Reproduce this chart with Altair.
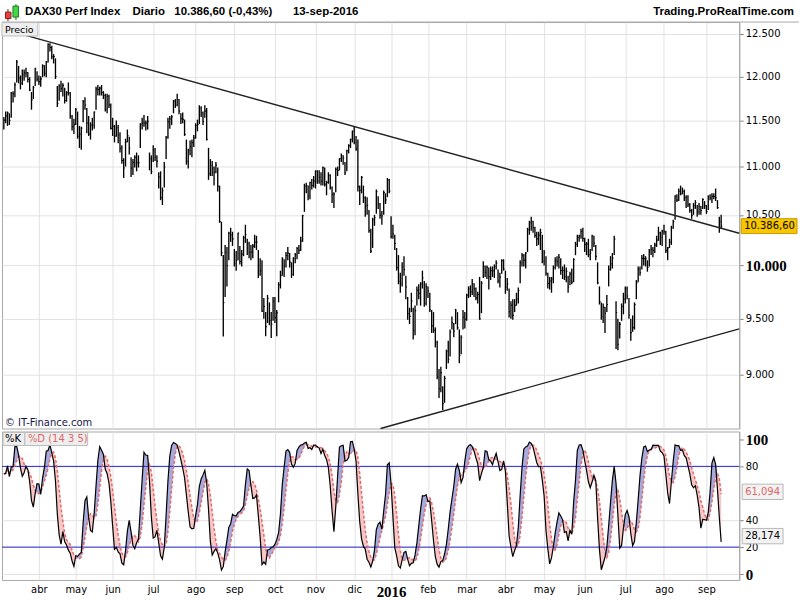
import json
import altair as alt
import numpy as np
import pandas as pd

# ---------------- data (daily bars, 5-mar-2015 .. 13-sep-2016) ----------------
highs = [
    11540, 11600, 11600, 11580, 11820, 11830, 11930, 12190, 12120, 12010, 12080, 12080, 12100, 12050, 11990, 11820, 11890, 12100, 12060,  # mar-15
    12010, 12000, 12140, 12130, 12180, 12390, 12390, 12360, 12260, 12210, 11890, 11910, 11950, 11920, 11870, 11830, 11930, 11820, 11560, 11520,  # abr
    11640, 11600, 11440, 11430, 11730, 11760, 11640, 11550, 11480, 11530, 11600, 11880, 11900, 11880, 11900, 11830, 11800, 11800, 11790, 11690,  # may
    11530, 11450, 11500, 11450, 11370, 11230, 11090, 11300, 11400, 11320, 11100, 11080, 11120, 11150, 11120, 11470, 11530, 11560, 11500, 11550, 11150, 11120,  # jun
    11230, 11200, 11120, 10940, 10950, 10780, 11050, 11330, 11530, 11550, 11560, 11730, 11740, 11800, 11740, 11580, 11590, 11510, 11290, 11190, 11280, 11290, 11340,  # jul
    11470, 11510, 11670, 11660, 11600, 11670, 11640, 11200, 11080, 11060, 11000, 11050, 10990, 10800, 10430, 10100, 10200, 10180, 10330, 10370, 10330,  # ago
    10160, 10140, 10320, 10190, 10150, 10290, 10400, 10260, 10230, 10200, 10210, 10300, 10290, 10150, 10070, 10050, 9690, 9560, 9720, 9650, 9560, 9700,  # sep
    9700, 9580, 9840, 9950, 10080, 10060, 10130, 10180, 10120, 10030, 10080, 10120, 10180, 10200, 10280, 10500, 10820, 10830, 10800, 10840, 10870, 10900,  # oct
    10960, 10960, 10960, 10940, 11000, 10990, 10850, 10940, 10920, 10790, 10730, 10990, 11000, 11090, 11140, 11120, 11050, 11180, 11240, 11300, 11390,  # nov
    11430, 11330, 11290, 10800, 10900, 10800, 10690, 10680, 10550, 10360, 10470, 10500, 10760, 10690, 10620, 10540, 10750, 10720, 10880, 10870,  # dic
    10486, 10400, 10300, 10170, 10100, 9930, 10030, 10090, 9900, 9700, 9600, 9740, 9600, 9620, 9800, 9820, 9840, 9950, 9850, 9830,  # ene-16
    9800, 9740, 9580, 9560, 9420, 9300, 9050, 9070, 8900, 8990, 9220, 9300, 9400, 9520, 9460, 9590, 9560, 9400, 9350, 9580, 9560,  # feb
    9730, 9800, 9810, 9870, 9830, 9790, 9750, 9890, 9850, 10040, 10000, 10000, 9980, 9990, 9990, 10010, 10050, 9960, 9930, 10060, 10060,  # mar
    9950, 9880, 9780, 9660, 9680, 9680, 9740, 9790, 10050, 10120, 10110, 10130, 10370, 10440, 10480, 10440, 10380, 10330, 10330, 10360, 10300,  # abr
    10150, 10090, 9930, 9890, 9890, 10000, 10080, 10090, 10110, 10070, 9990, 10010, 9980, 9900, 9940, 9970, 10070, 10230, 10300, 10300, 10360, 10370,  # may
    10270, 10230, 10260, 10160, 10300, 10290, 10200, 10030, 9800, 9650, 9640, 9610, 9720, 10000, 10090, 10120, 10290, 9660, 9500, 9470, 9640, 9740,  # jun
    9800, 9800, 9690, 9500, 9530, 9650, 9860, 9990, 9990, 10100, 10110, 10090, 10050, 10160, 10200, 10180, 10220, 10290, 10380, 10330, 10350,  # jul
    10400, 10340, 10180, 10260, 10390, 10450, 10700, 10710, 10770, 10800, 10780, 10760, 10700, 10700, 10620, 10560, 10620, 10650, 10600, 10620, 10590, 10670, 10640,  # ago
    10600, 10700, 10710, 10720, 10720, 10770, 10650, 10480, 10500,  # sep
]
lows = [
    11400, 11470, 11440, 11450, 11530, 11700, 11760, 11930, 11920, 11850, 11900, 11950, 11990, 11930, 11830, 11620, 11740, 11890, 11940,
    11900, 11880, 11990, 12000, 11990, 12160, 12290, 12200, 12150, 11970, 11650, 11720, 11820, 11770, 11690, 11710, 11780, 11520, 11390, 11350,
    11450, 11300, 11200, 11180, 11480, 11620, 11360, 11330, 11290, 11390, 11410, 11620, 11780, 11780, 11780, 11740, 11600, 11580, 11640, 11400,
    11330, 11260, 11320, 11250, 11150, 11030, 10880, 11000, 11260, 11130, 10890, 10910, 10990, 10950, 10990, 11200, 11400, 11430, 11390, 11400, 10960, 10920,
    11050, 11060, 10990, 10770, 10650, 10600, 10780, 11080, 11300, 11410, 11450, 11580, 11640, 11660, 11570, 11460, 11470, 11330, 11020, 10980, 11120, 11100, 11210,
    11300, 11380, 11460, 11540, 11450, 11530, 11280, 10860, 10900, 10900, 10800, 10930, 10740, 10420, 10090, 9338, 9700, 9800, 10050, 10230, 10190,
    9990, 9950, 10050, 10010, 9990, 10090, 10220, 10100, 10070, 10050, 10070, 10170, 10150, 9880, 9900, 9560, 9500, 9340, 9460, 9440, 9325, 9480,
    9460, 9340, 9650, 9780, 9900, 9890, 9980, 10050, 9980, 9880, 9900, 10020, 10060, 10110, 10140, 10230, 10530, 10720, 10650, 10660, 10760, 10780,
    10770, 10820, 10820, 10800, 10800, 10790, 10700, 10820, 10760, 10620, 10570, 10730, 10900, 10960, 11050, 11020, 10910, 10950, 11140, 11200, 11260,
    11240, 11170, 10740, 10600, 10720, 10620, 10480, 10500, 10320, 10120, 10170, 10390, 10510, 10560, 10460, 10400, 10500, 10610, 10680, 10720,
    10263, 10260, 10150, 9950, 9820, 9740, 9800, 9900, 9680, 9490, 9450, 9560, 9310, 9350, 9620, 9680, 9620, 9780, 9610, 9620,
    9690, 9560, 9370, 9370, 9240, 8960, 8800, 8850, 8699, 8760, 9050, 9100, 9160, 9400, 9330, 9450, 9400, 9100, 9180, 9400, 9410,
    9480, 9690, 9700, 9720, 9700, 9670, 9640, 9490, 9550, 9880, 9890, 9870, 9770, 9860, 9890, 9880, 9960, 9830, 9790, 9920, 9950,
    9730, 9760, 9510, 9500, 9490, 9560, 9620, 9640, 9830, 9990, 9990, 9970, 10130, 10300, 10340, 10320, 10270, 10190, 10200, 10150, 10020,
    10000, 9900, 9780, 9770, 9740, 9830, 9960, 9990, 9970, 9910, 9870, 9860, 9840, 9740, 9810, 9820, 9840, 10100, 10180, 10230, 10260, 10230,
    10130, 10100, 10080, 10050, 10140, 10180, 10050, 9820, 9630, 9490, 9460, 9370, 9560, 9800, 9950, 9970, 10100, 9226, 9214, 9320, 9480, 9540,
    9640, 9680, 9500, 9300, 9380, 9400, 9680, 9840, 9900, 9960, 10000, 9990, 9940, 9990, 10100, 10080, 10120, 10180, 10240, 10200, 10190,
    10300, 10120, 10050, 10170, 10200, 10360, 10450, 10630, 10640, 10700, 10710, 10640, 10570, 10580, 10520, 10460, 10500, 10560, 10480, 10500, 10500, 10560, 10560,
    10510, 10550, 10650, 10620, 10660, 10640, 10560, 10320, 10360,
]
closes = [
    11504, 11551, 11583, 11500, 11806, 11799, 11901, 12167, 11980, 11922, 12019, 12040, 12040, 11963, 11843, 11731, 11869, 12086, 11966,
    11939, 11968, 12123, 12035, 12166, 12375, 12338, 12228, 12231, 11998, 11688, 11892, 11862, 11896, 11723, 11810, 11811, 11547, 11432, 11454,
    11620, 11327, 11350, 11416, 11709, 11673, 11472, 11351, 11447, 11447, 11595, 11853, 11848, 11864, 11815, 11780, 11625, 11771, 11673, 11413,
    11437, 11328, 11419, 11340, 11197, 11065, 10985, 11265, 11333, 11197, 10984, 11044, 11100, 11040, 11041, 11460, 11471, 11472, 11473, 11492, 11084, 10945,
    11180, 11099, 11058, 10890, 10676, 10747, 10996, 11316, 11485, 11516, 11540, 11716, 11673, 11735, 11604, 11520, 11512, 11347, 11057, 11173, 11212, 11257, 11308,
    11444, 11456, 11637, 11585, 11490, 11604, 11293, 10924, 11014, 10985, 10940, 11016, 10793, 10432, 10124, 9648, 10128, 9997, 10316, 10298, 10259,
    10016, 10048, 10317, 10038, 10108, 10271, 10303, 10210, 10123, 10131, 10188, 10227, 10229, 9916, 9948, 9570, 9612, 9427, 9688, 9483, 9450, 9660,
    9509, 9553, 9814, 9902, 10064, 9994, 10096, 10119, 10032, 9915, 10064, 10104, 10164, 10147, 10238, 10491, 10795, 10801, 10692, 10832, 10801, 10850,
    10951, 10846, 10887, 10845, 10988, 10815, 10833, 10907, 10782, 10708, 10713, 10972, 10960, 11085, 11119, 11092, 10933, 11169, 11224, 11293, 11382,
    11261, 11190, 10789, 10752, 10886, 10673, 10593, 10598, 10340, 10139, 10450, 10470, 10738, 10608, 10497, 10489, 10727, 10653, 10860, 10743,
    10283, 10310, 10214, 9979, 9849, 9825, 9985, 9960, 9794, 9545, 9521, 9664, 9392, 9574, 9764, 9736, 9823, 9880, 9639, 9798,
    9757, 9582, 9434, 9393, 9286, 8980, 8879, 9018, 8752, 8967, 9206, 9135, 9378, 9463, 9388, 9573, 9416, 9167, 9331, 9513, 9495,
    9717, 9776, 9751, 9824, 9778, 9692, 9723, 9498, 9831, 9990, 9933, 9983, 9892, 9950, 9948, 9990, 10022, 9851, 9888, 10046, 9966,
    9794, 9822, 9563, 9624, 9530, 9622, 9683, 9761, 10026, 10094, 10051, 10120, 10350, 10421, 10435, 10373, 10294, 10259, 10299, 10321, 10039,
    10123, 9926, 9828, 9851, 9870, 9980, 10045, 10035, 10079, 9952, 9952, 9890, 9943, 9795, 9916, 9842, 10057, 10205, 10272, 10287, 10333, 10263,
    10205, 10208, 10103, 10121, 10288, 10218, 10088, 9834, 9657, 9519, 9606, 9550, 9631, 9962, 10015, 10071, 10257, 9557, 9268, 9448, 9612, 9680,
    9776, 9709, 9532, 9373, 9418, 9629, 9833, 9964, 9930, 10068, 10066, 10064, 9981, 10142, 10157, 10147, 10198, 10247, 10319, 10275, 10337,
    10330, 10144, 10171, 10228, 10367, 10432, 10693, 10651, 10742, 10713, 10739, 10676, 10679, 10603, 10544, 10494, 10593, 10623, 10529, 10587, 10544, 10657, 10592,
    10534, 10684, 10672, 10688, 10687, 10675, 10573, 10432, 10386.6,
]
first_bar_index = -19          # bar index 0 = 1-abr-2015

month_start_idx = [0, 20, 40, 62, 85, 106, 128, 150, 171, 191, 211, 232, 253, 274, 296, 318, 339, 362]
month_labels = ["abr", "may", "jun", "jul", "ago", "sep", "oct", "nov", "dic", "2016",
                "feb", "mar", "abr", "may", "jun", "jul", "ago", "sep"]

price_ticks = [9000, 9500, 10000, 10500, 11000, 11500, 12000, 12500]
stoch_ticks = [0, 20, 40, 80, 100]
stoch_levels = [20, 80]

upper_trend_idx = [-8.1, 379.8]
upper_trend_price = [12489, 10315]
lower_trend_idx = [185.3, 379.8]
lower_trend_price = [8545, 9407]

last_price = 10386.6
last_price_text = "10.386,60"
stoch_values = [61.094, 28.174]
stoch_texts = ["61,094", "28,174"]
stoch_text_colors = ["#e06666", "#000000"]

n = len(closes)
if not (len(highs) == n and len(lows) == n):
    raise SystemExit(f"length mismatch: H{len(highs)} L{len(lows)} C{n}")

df = pd.DataFrame({
    "i": np.arange(first_bar_index, first_bar_index + n),
    "high": highs, "low": lows, "close": closes,
})
df["tick_end"] = df["i"] + 0.6
hh = df["high"].rolling(14, min_periods=1).max()
ll = df["low"].rolling(14, min_periods=1).min()
raw_k = 100 * (df["close"] - ll) / (hh - ll)
df["K"] = raw_k.rolling(3, min_periods=1).mean()
df["D"] = df["K"].rolling(5, min_periods=1).mean()
df["blue_top"] = np.maximum(df["K"], df["D"])
df["pink_bot"] = np.minimum(df["K"], df["D"])

# ---------------- scales / axes ----------------
W, H1, H2 = 740, 408, 149
GRID = "#e2e2e2"
xs = alt.Scale(domain=[-20, 379.8], nice=False, zero=False)
ys = alt.Scale(type="log", domain=[8545, 12645], nice=False)
ss = alt.Scale(domain=[-4.4, 105.9], nice=False, zero=False)


def cond(test, a, b):
    return {"condition": {"test": test, "value": a}, "value": b}


x_top_axis = alt.Axis(values=month_start_idx, grid=True, gridColor=GRID, labels=False,
                      ticks=False, domain=False, title=None)
y_price_axis = alt.Axis(
    orient="right", values=price_ticks, grid=True, gridColor=GRID, title=None,
    tickSize=4, tickColor="#888", domain=True, domainColor="#a8a8a8", labelPadding=2,
    labelOverlap=False,
    labelExpr="replace(format(datum.value, ','), ',', '.')",
    labelFont=cond("datum.value == 10000", "Liberation Serif", "DejaVu Sans"),
    labelFontSize=cond("datum.value == 10000", 15, 10),
    labelFontWeight=cond("datum.value == 10000", "bold", "normal"),
    labelColor="#000",
)
label_expr_x = "%s[indexof(%s, datum.value)]" % (json.dumps(month_labels), json.dumps(month_start_idx))
x_bot_axis = alt.Axis(
    values=month_start_idx, grid=True, gridColor=GRID, ticks=False, domain=False, title=None,
    labelExpr=label_expr_x, labelPadding=5, labelColor="#000", labelOverlap=False,
    labelFont=cond("datum.value == 191", "Liberation Serif", "DejaVu Sans"),
    labelFontSize=cond("datum.value == 191", 15, 10),
    labelFontWeight=cond("datum.value == 191", "bold", "normal"),
)
y_stoch_axis = alt.Axis(
    orient="right", values=stoch_ticks, grid=True, gridColor=GRID, title=None,
    gridOpacity=cond("datum.value == 100", 0, 1),
    tickSize=4, tickColor="#888", domain=True, domainColor="#a8a8a8", labelPadding=2,
    labelColor="#000", labelOverlap=False, labelBound=False, labelFlush=False,
    labelFont=cond("datum.value == 0 || datum.value == 100", "Liberation Serif", "DejaVu Sans"),
    labelFontSize=cond("datum.value == 0 || datum.value == 100", 15, 10),
    labelFontWeight=cond("datum.value == 0 || datum.value == 100", "bold", "normal"),
)

one = pd.DataFrame({"z": [0]})


def txt(s, x, y, size=10, weight="normal", color="black", font="DejaVu Sans", align="left"):
    return alt.Chart(one).mark_text(text=s, fontSize=size, fontWeight=weight, color=color,
                                    font=font, align=align, baseline="middle").encode(
        x=alt.value(x), y=alt.value(y))


def box(x1, x2, y1, y2, fill, stroke=None):
    kw = {"fill": fill}
    if stroke:
        kw.update(stroke=stroke, strokeWidth=1)
    return alt.Chart(one).mark_rect(**kw).encode(
        x=alt.value(x1), x2=alt.value(x2), y=alt.value(y1), y2=alt.value(y2))


def hline(x1, x2, y, color):
    return alt.Chart(one).mark_rule(color=color, strokeWidth=1).encode(
        x=alt.value(x1), x2=alt.value(x2), y=alt.value(y))


def vline(x, y1, y2, color):
    return alt.Chart(one).mark_rule(color=color, strokeWidth=1).encode(
        x=alt.value(x), y=alt.value(y1), y2=alt.value(y2))


# ---------------- price panel ----------------
bars = alt.Chart(df).mark_rule(color="black", strokeWidth=1.35).encode(
    x=alt.X("i:Q", scale=xs, axis=x_top_axis),
    y=alt.Y("low:Q", scale=ys, axis=y_price_axis),
    y2="high:Q",
)
close_ticks = alt.Chart(df).mark_rule(color="black", strokeWidth=1.1).encode(
    x=alt.X("i:Q", scale=xs, axis=x_top_axis), x2="tick_end:Q",
    y=alt.Y("close:Q", scale=ys, axis=y_price_axis))

up_df = pd.DataFrame({"i": upper_trend_idx, "p": upper_trend_price})
lo_df = pd.DataFrame({"i": lower_trend_idx, "p": lower_trend_price})
trend_up = alt.Chart(up_df).mark_line(color="#222", strokeWidth=1.4).encode(
    x=alt.X("i:Q", scale=xs, axis=x_top_axis), y=alt.Y("p:Q", scale=ys, axis=y_price_axis))
trend_lo = alt.Chart(lo_df).mark_line(color="#222", strokeWidth=1.4).encode(
    x=alt.X("i:Q", scale=xs, axis=x_top_axis), y=alt.Y("p:Q", scale=ys, axis=y_price_axis))

px_df = pd.DataFrame({"p": [last_price], "lo": [last_price / np.exp(7.5 / 1041)],
                      "hi": [last_price * np.exp(7.5 / 1041)], "t": [last_price_text]})
price_box = alt.Chart(px_df).mark_rect(fill="#f7c600", stroke="#c99a00", strokeWidth=1).encode(
    x=alt.value(742), x2=alt.value(798), y=alt.Y("lo:Q", scale=ys, axis=y_price_axis), y2="hi:Q")
price_txt = alt.Chart(px_df).mark_text(align="left", baseline="middle", fontSize=10,
                                       font="DejaVu Sans", color="black").encode(
    x=alt.value(745), y=alt.Y("p:Q", scale=ys, axis=y_price_axis), text="t:N")

HF = "Liberation Sans"
header = [
    box(0, 800, -20, 0, "white"),
    hline(0, 800, 0, "#a8a8a8"),
    vline(6, -13, -1, "#602020"),
    box(3.5, 9, -10, -3.5, "#e8423c", "#8a1a1a"),
    vline(14, -18, -2, "#206020"),
    box(11, 16.5, -16, -5, "#46d846", "#1a7a1a"),
    txt("DAX30 Perf Index", 23, -10, size=11.5, weight="bold", font=HF),
    txt("Diario", 131, -10, size=11.5, weight="bold", font=HF),
    txt("10.386,60 (-0,43%)", 173, -10, size=11.5, weight="bold", font=HF),
    txt("13-sep-2016", 292, -10, size=11.5, weight="bold", font=HF),
    txt("Trading.ProRealTime.com", 795, -10, size=11.5, weight="bold", font=HF, align="right"),
]
top_labels = [
    box(0, 36, 0.5, 14, "#eeeeee", "#bdbdbd"),
    txt("Precio", 3, 7.5, size=9.5),
    txt("© IT-Finance.com", 3, 402, size=10, color="#14144a"),
]

top = alt.layer(*header, bars, close_ticks, trend_up, trend_lo, price_box, price_txt,
                *top_labels).properties(width=W, height=H1)

# ---------------- stochastic panel ----------------
blue_area = alt.Chart(df).mark_area(color="#a7aadc").encode(
    x=alt.X("i:Q", scale=xs, axis=x_bot_axis),
    y=alt.Y("blue_top:Q", scale=ss, axis=y_stoch_axis),
    y2="D:Q",
)
pink_area = alt.Chart(df).mark_area(color="#f7c6c6").encode(
    x=alt.X("i:Q", scale=xs, axis=x_bot_axis), y=alt.Y("pink_bot:Q", scale=ss, axis=y_stoch_axis), y2="D:Q")
levels = alt.Chart(pd.DataFrame({"lvl": stoch_levels})).mark_rule(color="#2626cc", strokeWidth=1).encode(
    y=alt.Y("lvl:Q", scale=ss, axis=y_stoch_axis))
d_line = alt.Chart(df).mark_line(color="#e46a6a", strokeWidth=1.5, strokeDash=[3, 2]).encode(
    x=alt.X("i:Q", scale=xs, axis=x_bot_axis), y=alt.Y("D:Q", scale=ss, axis=y_stoch_axis))
k_line = alt.Chart(df).mark_line(color="black", strokeWidth=1.2).encode(
    x=alt.X("i:Q", scale=xs, axis=x_bot_axis), y=alt.Y("K:Q", scale=ss, axis=y_stoch_axis))

sv = pd.DataFrame({"v": stoch_values, "t": stoch_texts, "c": stoch_text_colors})
sv["lo"] = sv["v"] - 5.7
sv["hi"] = sv["v"] + 5.7
val_boxes = alt.Chart(sv).mark_rect(fill="#f2f2f2", stroke="#b8b8b8", strokeWidth=1).encode(
    x=alt.value(743), x2=alt.value(784), y=alt.Y("lo:Q", scale=ss, axis=y_stoch_axis), y2="hi:Q")
val_txt = alt.Chart(sv).mark_text(align="left", baseline="middle", fontSize=10,
                                  font="DejaVu Sans").encode(
    x=alt.value(746), y=alt.Y("v:Q", scale=ss, axis=y_stoch_axis), text="t:N",
    color=alt.Color("c:N", scale=None))

stoch_labels = [
    box(1, 23, 1, 14, "#eeeeee", "#bdbdbd"),
    txt("%K", 3, 7.5, size=10),
    box(23, 86, 1, 14, "#eeeeee", "#bdbdbd"),
    txt("%D (14 3 5)", 26, 7.5, size=10, color="#e06666"),
    box(796, 800, 150, 169, "white"),
]

bottom = alt.layer(blue_area, pink_area, levels, d_line, k_line, val_boxes, val_txt,
                   *stoch_labels).properties(width=W, height=H2)

chart = (
    alt.vconcat(top, bottom, spacing=3, bounds="flush")
    .resolve_scale(x="independent", y="independent")
    .properties(padding=0, background="white")
    .configure_view(stroke="#a8a8a8", strokeWidth=1)
    .configure_axis(labelOverlap=False)
)

chart.save("out.html", embed_options={"renderer": "svg", "actions": False})
